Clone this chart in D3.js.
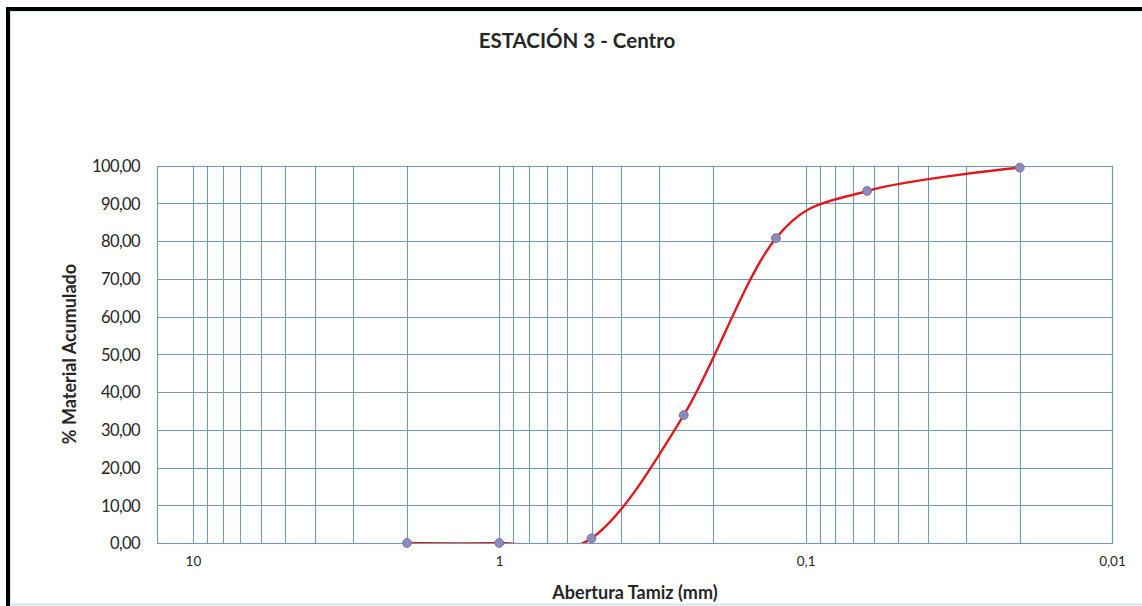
<!DOCTYPE html>
<html>
<head>
<meta charset="utf-8">
<script src="https://cdn.jsdelivr.net/npm/d3@7"></script>
<style>
  html, body { margin: 0; padding: 0; background: #fff; }
  svg { display: block; }
  text { font-family: "Lato", "Open Sans", sans-serif; fill: #262626; }
</style>
</head>
<body>
<svg id="chart" width="1142" height="606"></svg>
<script>
// ---- data ----
const sieveOpenings = [2, 1, 0.5, 0.25, 0.125, 0.063, 0.02];
const percentPassing = [0.0, 0.0, 1.25, 33.9, 80.8, 93.3, 99.5];
const yTickValues = [0, 10, 20, 30, 40, 50, 60, 70, 80, 90, 100];
const xTickValues = [10, 1, 0.1, 0.01];
const xTickLabels = ["10", "1", "0,1", "0,01"];
const xDomain = [13.1, 0.01];
const yDomain = [0, 100];
const chartTitle = "ESTACIÓN 3 - Centro";
const xTitle = "Abertura Tamiz (mm)";
const yTitle = "% Material Acumulado";

// ---- layout ----
const W = 1142, H = 606;
const plot = { left: 157, right: 1112, top: 165.7, bottom: 543 };
const gridColor = "#7299b4";

const svg = d3.select("#chart");

// frame
svg.append("rect").attr("x", 0).attr("y", 0).attr("width", W).attr("height", H).attr("fill", "#fff");
svg.append("line").attr("x1", 10).attr("x2", W).attr("y1", 604.5).attr("y2", 604.5)
  .attr("stroke", "#bfe3f0").attr("stroke-width", 1.5);
svg.append("line").attr("x1", 10.5).attr("x2", 10.5).attr("y1", 11).attr("y2", H)
  .attr("stroke", "#cfe9f3").attr("stroke-width", 1);
svg.append("line").attr("x1", 10).attr("x2", W).attr("y1", 11.5).attr("y2", 11.5)
  .attr("stroke", "#d6ecf5").attr("stroke-width", 1);
svg.append("rect").attr("x", 6).attr("y", 7).attr("width", W).attr("height", 4).attr("fill", "#000");
svg.append("rect").attr("x", 6).attr("y", 7).attr("width", 4).attr("height", H).attr("fill", "#000");

// scales
const x = d3.scaleLog().domain(xDomain).range([plot.left, plot.right]);
const y = d3.scaleLinear().domain(yDomain).range([plot.bottom, plot.top]);

// vertical grid (major + minor log lines)
const gridX = [];
for (let e = -2; e <= 1; e++) {
  for (let m = 1; m <= 9; m++) {
    const v = m * Math.pow(10, e);
    if (v >= xDomain[1] && v <= xDomain[0]) gridX.push(v);
  }
}
svg.append("g").selectAll("line").data(gridX).join("line")
  .attr("x1", d => Math.round(x(d)) + 0.5).attr("x2", d => Math.round(x(d)) + 0.5)
  .attr("y1", plot.top).attr("y2", plot.bottom)
  .attr("stroke", gridColor).attr("stroke-width", 1.1);

// horizontal grid
svg.append("g").selectAll("line").data(yTickValues).join("line")
  .attr("x1", plot.left).attr("x2", plot.right)
  .attr("y1", d => Math.round(y(d)) + 0.5).attr("y2", d => Math.round(y(d)) + 0.5)
  .attr("stroke", gridColor).attr("stroke-width", 1.1);

// plot border
svg.append("rect")
  .attr("x", plot.left + 0.5).attr("y", Math.round(plot.top) + 0.5)
  .attr("width", plot.right - plot.left).attr("height", Math.round(plot.bottom) - Math.round(plot.top))
  .attr("fill", "none").attr("stroke", gridColor).attr("stroke-width", 1.1);

// y axis labels
const fmtY = d => d3.format(".2f")(d).replace(".", ",");
const yAxis = d3.axisLeft(y).tickValues(yTickValues).tickFormat(fmtY).tickSize(0).tickPadding(0);
const yg = svg.append("g").attr("transform", `translate(${plot.left - 17},0)`).call(yAxis);
yg.select(".domain").remove();
yg.selectAll("text").style("font-family", "Lato, 'Open Sans', sans-serif")
  .style("font-size", "16.5px").style("letter-spacing", "-0.6px")
  .attr("fill", "#404040").attr("dy", "0.35em");

// x axis labels
const xAxis = d3.axisBottom(x).tickValues(xTickValues)
  .tickFormat((d, i) => xTickLabels[i]).tickSize(0).tickPadding(0);
const xg = svg.append("g").attr("transform", `translate(0,${plot.bottom + 13})`).call(xAxis);
xg.select(".domain").remove();
xg.selectAll("text").style("font-family", "Lato, 'Open Sans', sans-serif")
  .style("font-size", "13.5px").attr("fill", "#404040").attr("dy", "0.71em");

// clip
svg.append("clipPath").attr("id", "clip").append("rect")
  .attr("x", plot.left).attr("y", plot.top - 10)
  .attr("width", plot.right - plot.left).attr("height", plot.bottom - plot.top + 10);

const pts = sieveOpenings.map((d, i) => [d, percentPassing[i]]);
const line = d3.line().x(d => x(d[0])).y(d => y(d[1])).curve(d3.curveCatmullRom.alpha(0));
svg.append("path").datum(pts).attr("d", line).attr("clip-path", "url(#clip)")
  .attr("fill", "none").attr("stroke", "#dc1a1e").attr("stroke-width", 2.4);

svg.append("g").selectAll("circle").data(pts).join("circle")
  .attr("cx", d => x(d[0])).attr("cy", d => y(d[1])).attr("r", 4.4)
  .attr("fill", "#8a8cbd").attr("stroke", "#7d6f9f").attr("stroke-width", 1);

// titles
svg.append("text").attr("x", 577).attr("y", 48).attr("text-anchor", "middle")
  .style("font-size", "20.5px").style("font-weight", "bold").attr("fill", "#1a1a1a").text(chartTitle);
svg.append("text").attr("x", 635).attr("y", 599).attr("text-anchor", "middle")
  .style("font-size", "18px").style("font-weight", "bold").attr("fill", "#1a1a1a").text(xTitle);
svg.append("text").attr("transform", `translate(76,354) rotate(-90)`).attr("text-anchor", "middle")
  .style("font-size", "18px").style("font-weight", "bold").attr("fill", "#1a1a1a").text(yTitle);
</script>
</body>
</html>
